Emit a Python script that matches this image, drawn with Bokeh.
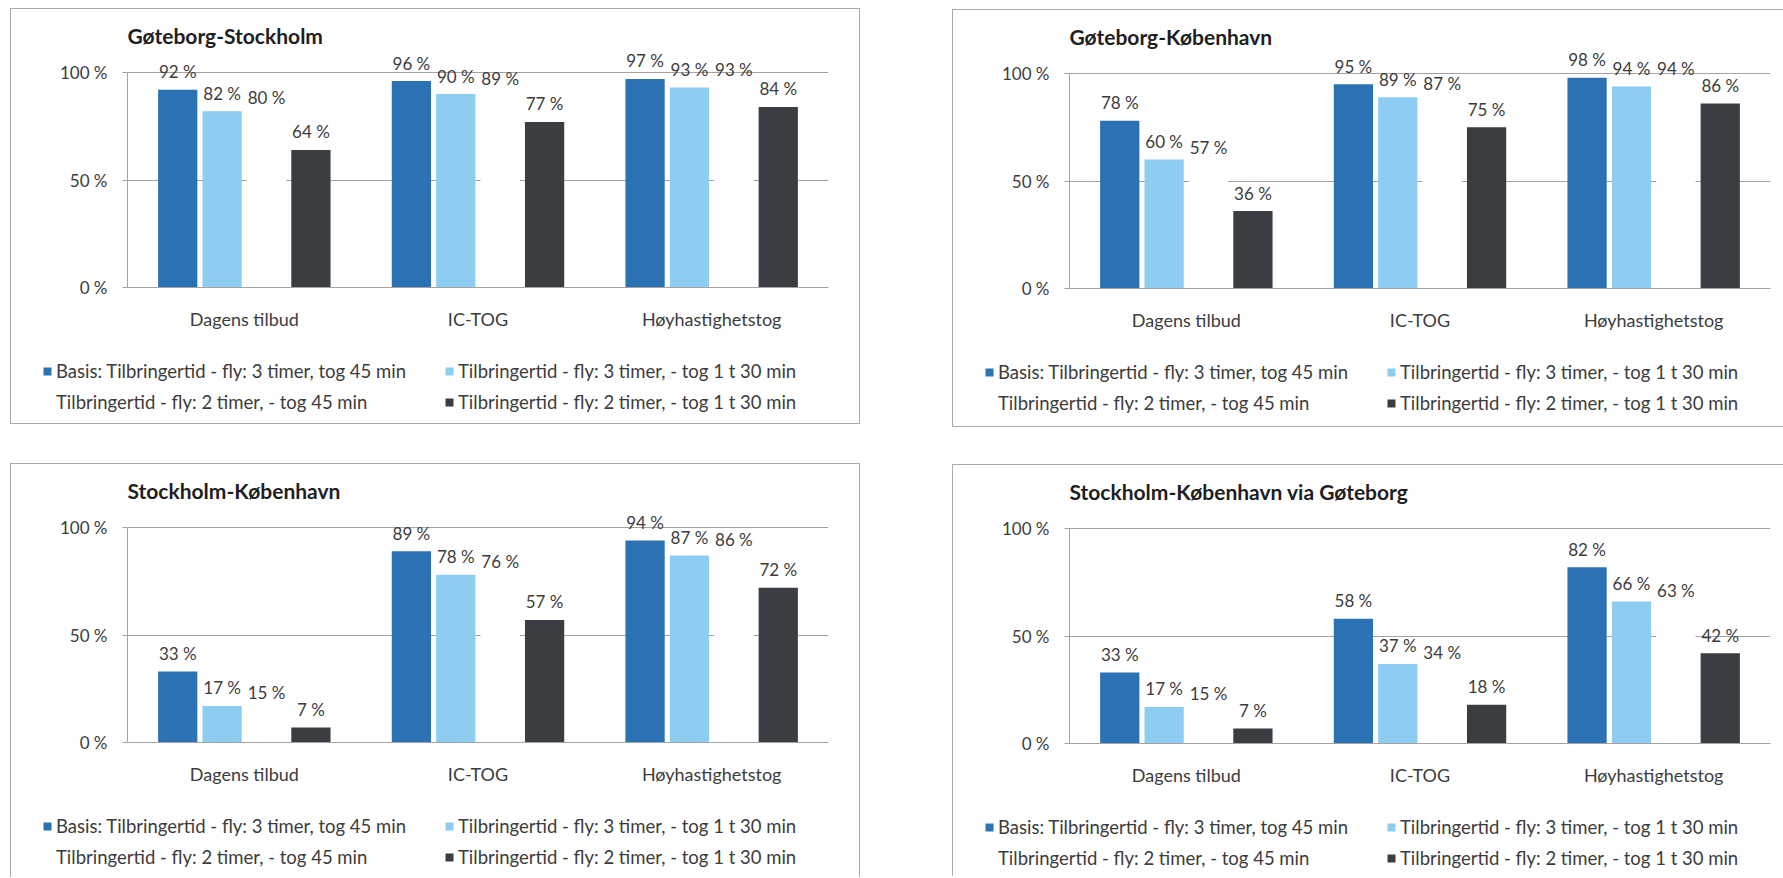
from bokeh.plotting import figure
from bokeh.models import (FactorRange, Range1d, FixedTicker, ColumnDataSource,
                          LabelSet, Legend, LegendItem)
from bokeh.transform import dodge
from bokeh.layouts import row, column
from bokeh.core.properties import value
from bokeh.embed import file_html
from bokeh.resources import INLINE

# --- data -------------------------------------------------------------------
categories = ["Dagens tilbud", "IC-TOG", "Høyhastighetstog"]

series_names = [
    "Basis: Tilbringertid - fly: 3 timer, tog 45 min",
    "Tilbringertid - fly: 3 timer, - tog 1 t 30 min",
    "Tilbringertid - fly: 2 timer, - tog 45 min",
    "Tilbringertid - fly: 2 timer, - tog 1 t 30 min",
]
series_colors = ["#2b72b5", "#8ecdf2", "#ffffff", "#3a3d42"]

panel_titles = [
    "Gøteborg-Stockholm",
    "Gøteborg-København",
    "Stockholm-København",
    "Stockholm-København via Gøteborg",
]

# shares in percent, one list per series (categories in order)
gs_basis = [92, 96, 97]
gs_fly3_tog90 = [82, 90, 93]
gs_fly2_tog45 = [80, 89, 93]
gs_fly2_tog90 = [64, 77, 84]

gk_basis = [78, 95, 98]
gk_fly3_tog90 = [60, 89, 94]
gk_fly2_tog45 = [57, 87, 94]
gk_fly2_tog90 = [36, 75, 86]

sk_basis = [33, 89, 94]
sk_fly3_tog90 = [17, 78, 87]
sk_fly2_tog45 = [15, 76, 86]
sk_fly2_tog90 = [7, 57, 72]

skg_basis = [33, 58, 82]
skg_fly3_tog90 = [17, 37, 66]
skg_fly2_tog45 = [15, 34, 63]
skg_fly2_tog90 = [7, 18, 42]

y_ticks = [0, 50, 100]
y_tick_labels = ["0 %", "50 %", "100 %"]

# --- styling ------------------------------------------------------------------
FONT = "Lato"
TEXT = "#3c3c3c"
GRID = "#a3a3a3"
BORDER = "1px solid #ababab"
BAR_OFFSETS = [-0.285, -0.095, 0.095, 0.285]
BAR_WIDTH = 0.168
FRAME_H = 239
CHART_H = 341
Y_TOP = 100 + 24 / 215 * 100   # headroom above the 100 % line for value labels


def no_frame_align(p):
    try:
        p.frame_align = False
    except AttributeError:
        pass


def make_chart(title, series, width, border_right):
    p = figure(x_range=FactorRange(factors=categories),
               y_range=Range1d(0, Y_TOP),
               width=width, height=CHART_H,
               min_border_left=116, min_border_right=border_right,
               min_border_top=39, min_border_bottom=CHART_H - 39 - FRAME_H,
               output_backend="svg", toolbar_location=None, title=title)
    no_frame_align(p)

    p.title.text_font = FONT
    p.title.text_font_size = "21px"
    p.title.text_font_style = "bold"
    p.title.text_color = "#1e1e1e"
    p.title.align = "left"
    p.title.standoff = 2

    p.outline_line_color = None
    p.xgrid.grid_line_color = None
    p.ygrid.ticker = FixedTicker(ticks=y_ticks)
    p.ygrid.grid_line_color = GRID

    p.yaxis.ticker = FixedTicker(ticks=y_ticks)
    p.yaxis.major_label_overrides = dict(zip(y_ticks, y_tick_labels))
    p.yaxis.bounds = (0, 100)
    p.yaxis.axis_line_color = GRID
    p.yaxis.major_tick_line_color = GRID
    p.yaxis.major_tick_out = 5
    p.yaxis.major_tick_in = 0
    p.yaxis.minor_tick_line_color = None
    p.yaxis.major_label_standoff = 15
    p.yaxis.major_label_text_font = FONT
    p.yaxis.major_label_text_font_size = "17px"
    p.yaxis.major_label_text_color = TEXT

    p.xaxis.axis_line_color = GRID
    p.xaxis.major_tick_line_color = None
    p.xaxis.major_label_standoff = 14
    p.xaxis.major_label_text_font = FONT
    p.xaxis.major_label_text_font_size = "18px"
    p.xaxis.major_label_text_color = TEXT

    for vals, color, off in zip(series, series_colors, BAR_OFFSETS):
        src = ColumnDataSource(dict(cat=categories, v=vals,
                                    txt=[f"{v} %" for v in vals]))
        xpos = dodge("cat", off, range=p.x_range)
        p.vbar(x=xpos, top="v", width=BAR_WIDTH, source=src,
               fill_color=color, line_color=None)
        p.add_layout(LabelSet(x=xpos, y="v", text="txt", source=src,
                              y_offset=18, text_align="center",
                              text_baseline="middle",
                              text_font=value(FONT), text_font_size="17px",
                              text_color=TEXT))
    return p


def make_key(width, height):
    # a strip under each chart that carries the series key
    k = figure(width=width, height=height, x_range=Range1d(0, 1), y_range=Range1d(0, 1),
               x_axis_location=None, y_axis_location=None, min_border=0,
               output_backend="svg", toolbar_location=None)
    no_frame_align(k)
    k.grid.visible = False
    k.outline_line_color = None
    items = []
    for name, color in zip(series_names, series_colors):
        # zero-size swatch renderer: only its colour is used by the key
        r = k.vbar(x=[0.5], top=[0], bottom=[0], width=0,
                   fill_color=color, line_color=None)
        items.append(LegendItem(label=name, renderers=[r]))
    legend = Legend(items=items, location=(31, height - 10 - 53),
                    orientation="horizontal", ncols=2,
                    glyph_width=10, glyph_height=10, label_standoff=4,
                    label_width=379, label_height=22, spacing=9,
                    padding=0, margin=0, border_line_color=None,
                    background_fill_alpha=0,
                    label_text_font=FONT, label_text_font_size="18.5px",
                    label_text_color=TEXT)
    k.add_layout(legend)
    return k


def make_panel(title, series, width, border_right, key_h, margin, css):
    chart = make_chart(title, series, width, border_right)
    key = make_key(width, key_h)
    return column(chart, key, margin=margin, styles=css, spacing=0)


p1 = make_panel(panel_titles[0], [gs_basis, gs_fly3_tog90, gs_fly2_tog45, gs_fly2_tog90],
                848, 31, 73, (8, 0, 0, 10),
                {"border": BORDER})
p2 = make_panel(panel_titles[1], [gk_basis, gk_fly3_tog90, gk_fly2_tog45, gk_fly2_tog90],
                830, 13, 75, (9, 0, 0, 92),
                {"border-top": BORDER, "border-left": BORDER, "border-bottom": BORDER})
p3 = make_panel(panel_titles[2], [sk_basis, sk_fly3_tog90, sk_fly2_tog45, sk_fly2_tog90],
                848, 31, 72, (36, 0, 0, 10),
                {"border-top": BORDER, "border-left": BORDER, "border-right": BORDER})
p4 = make_panel(panel_titles[3], [skg_basis, skg_fly3_tog90, skg_fly2_tog45, skg_fly2_tog90],
                830, 13, 70, (37, 0, 0, 92),
                {"border-top": BORDER, "border-left": BORDER})

layout = column(row(p1, p2), row(p3, p4))

with open("out.html", "w") as f:
    f.write(file_html(layout, INLINE))
